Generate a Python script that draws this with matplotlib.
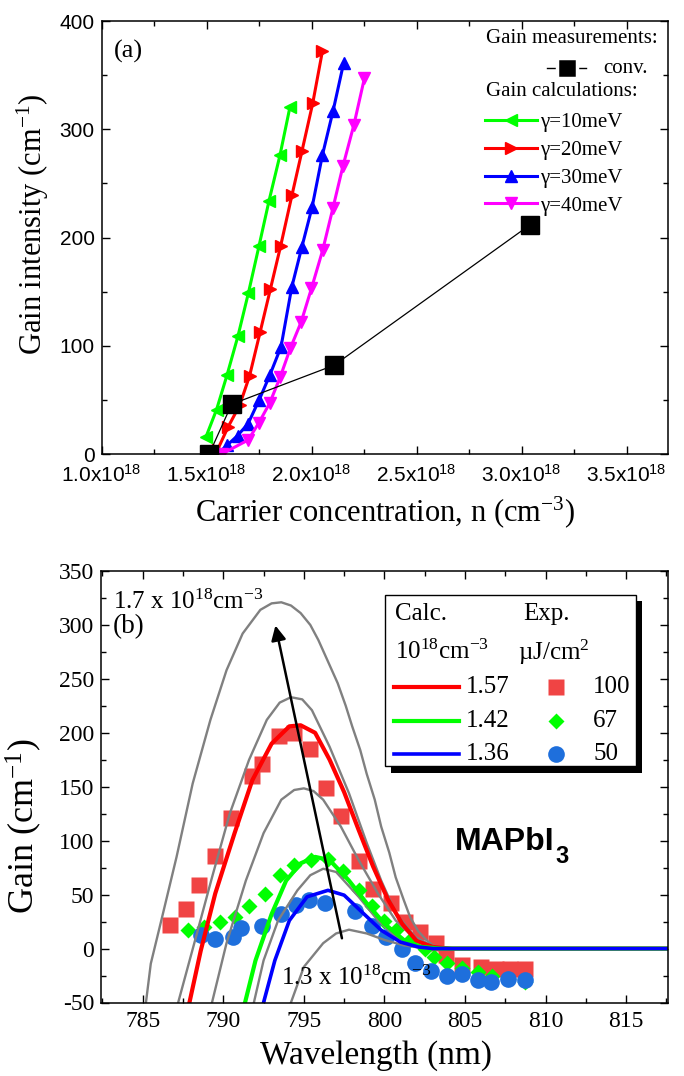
import matplotlib
matplotlib.use("Agg")
import matplotlib.pyplot as plt
from matplotlib.lines import Line2D
from matplotlib.patches import Rectangle
from matplotlib.ticker import MultipleLocator, FuncFormatter

plt.rcParams['mathtext.fontset'] = 'custom'
plt.rcParams['mathtext.rm'] = 'Liberation Serif'
plt.rcParams['mathtext.it'] = 'Liberation Serif:italic'
plt.rcParams['mathtext.bf'] = 'Liberation Serif:bold'
plt.rcParams['mathtext.sf'] = 'Liberation Sans'
plt.rcParams['mathtext.default'] = 'regular'
plt.rcParams['axes.unicode_minus'] = False
SERIF = 'Liberation Serif'
SANS = 'Liberation Sans'

# ---------------- Panel (a) data (n in 1e18 cm^-3, gain in cm^-1) ----------------
g10_n = [1.497, 1.547, 1.597, 1.649, 1.699, 1.749, 1.797, 1.849, 1.897]
g10_g = [16, 41, 73, 109, 149, 192, 234, 276, 321]
g20_n = [1.552, 1.602, 1.657, 1.704, 1.755, 1.803, 1.852, 1.906, 1.954, 2.005, 2.051]
g20_g = [4, 25, 45, 72, 113, 152, 192, 239, 280, 324, 372]
g30_n = [1.552, 1.597, 1.647, 1.697, 1.750, 1.801, 1.854, 1.905, 1.953, 2.002, 2.051, 2.102, 2.152]
g30_g = [0, 8, 17, 28, 50, 73, 99, 154, 191, 228, 276, 317, 361]
g40_n = [1.572, 1.698, 1.749, 1.800, 1.850, 1.899, 1.950, 1.999, 2.052, 2.101, 2.149, 2.201, 2.251]
g40_g = [0, 13, 29, 47, 71, 98, 122, 153, 188, 227, 266, 304, 347]
conv_n = [1.512, 1.619, 2.107, 3.042]
conv_g = [0, 46, 82, 212]
gamma_labels = ['\u03b3=10meV', '\u03b3=20meV', '\u03b3=30meV', '\u03b3=40meV']

# ---------------- Panel (b) data (wavelength nm, gain cm^-1) ----------------
gray17_x = [785.2, 785.5, 786.2, 787.1, 788.1, 789.2, 790.2, 791.2, 792.3, 793.0, 793.6, 794.2, 794.8,
            795.4, 795.9, 796.5, 797.1, 797.6, 798.0, 798.5, 798.9, 799.4, 799.8, 800.3, 800.7, 801.2,
            801.6, 802.1, 802.6, 803.0, 803.5, 804.5]
gray17_y = [-50, -14, 29, 85, 153, 212, 258, 292, 314, 320, 321, 318, 311, 300, 286, 266, 246, 225, 206,
            184, 162, 138, 113, 89, 66, 45, 29, 16, 8, 3, 1, 0]
gray16_x = [787.2, 788.2, 789.3, 790.4, 791.6, 792.7, 793.5, 794.2, 794.9, 795.5, 796.6, 797.8, 798.9,
            799.8, 800.7, 801.9, 803.0, 804.5]
gray16_y = [-50, 5, 66, 125, 175, 212, 228, 233, 231, 221, 187, 144, 98, 63, 33, 11, 2, 0]
gray15_x = [789.3, 790.2, 791.4, 792.5, 793.6, 794.4, 795.0, 795.6, 796.2, 797.3, 798.4, 799.6, 800.7,
            801.9, 803.0, 804.5]
gray15_y = [-50, 5, 63, 107, 138, 147, 148.5, 146, 138, 113, 82, 51, 26, 9, 1.5, 0]
gray14_x = [791.9, 792.5, 793.4, 794.6, 795.4, 796.2, 797.0, 798.4, 799.6, 800.7, 801.9, 803.0, 804.5]
gray14_y = [-50, -11, 26, 54, 68, 74, 71, 48, 26, 11, 3, 0.5, 0]
gray13_x = [794.2, 795.0, 796.2, 797.0, 797.8, 798.9, 800.0, 801.2, 802.3, 803.5]
gray13_y = [-50, -17, 5, 14, 17.5, 14, 8, 3, 0.6, 0]

calc157_x = [787.9, 788.6, 789.5, 790.7, 791.8, 793.0, 794.1, 794.8, 795.7, 796.6, 797.5, 798.4, 799.3,
             800.2, 801.1, 802.0, 803.0, 804.0, 818.0]
calc157_y = [-50, -2, 51, 107, 156, 190, 206, 207, 200, 175, 145, 110, 76, 46, 23, 7, 1.5, 0, 0]
calc142_x = [791.35, 792.0, 793.0, 793.9, 794.8, 795.7, 796.6, 797.8, 798.9, 800.0, 801.2, 802.3, 803.5, 818.0]
calc142_y = [-50, -11, 32, 63, 79, 85, 82, 63, 42, 23, 8, 1.5, 0, 0]
calc136_x = [792.5, 793.2, 794.1, 795.2, 796.5, 797.5, 798.7, 799.8, 801.0, 802.1, 803.0, 818.0]
calc136_y = [-50, -11, 26, 48, 54, 49.5, 32.5, 17, 6, 1.5, 0, 0]

exp100_x = [786.7, 787.7, 788.5, 789.5, 790.5, 791.8, 792.4, 793.45, 794.4, 795.4, 796.35, 797.3, 798.4,
            799.3, 800.4, 801.3, 802.2, 803.2, 803.8, 804.8, 806.0, 806.9, 807.8, 808.7]
exp100_y = [21.7, 37, 59, 86, 121, 160, 171, 197.5, 199.6, 185, 149, 123, 81, 55, 42, 25, 15, 5, -6,
            -15.5, -17, -18.6, -18.6, -18.6]
exp67_x = [787.8, 788.8, 789.8, 790.7, 791.6, 792.6, 793.5, 794.4, 795.45, 796.5, 797.4, 798.4, 799.2,
           800.0, 800.7, 801.6, 802.5, 803.1, 803.9, 804.8, 805.8, 806.7, 807.7, 808.7]
exp67_y = [17, 20, 25, 29, 39, 51, 68, 77, 82, 83, 72, 54, 39, 26, 17, 8, 0, -8, -13, -18, -22, -25, -28, -31]
exp50_x = [788.6, 789.5, 790.6, 791.1, 792.4, 793.6, 794.5, 795.3, 796.3, 798.2, 799.2, 800.1, 801.1,
           801.9, 802.9, 803.9, 804.8, 805.8, 806.6, 807.7, 808.7]
exp50_y = [13, 9, 11, 19, 21, 32, 40, 45, 42, 35, 21, 11, 0, -13, -21, -25, -24, -29, -31, -28, -29]

calc_labels = ['1.57', '1.42', '1.36']
exp_labels = ['100', '67', '50']
arrow_start = (797.4, 7)
arrow_end = (793.2, 302)

# ---------------- Figure ----------------
W, H = 684, 1076
fig = plt.figure(figsize=(W / 100, H / 100), dpi=100)
axA = fig.add_axes([101.7 / W, 1 - 454 / H, (668 - 101.7) / W, (454 - 21) / H])
axB = fig.add_axes([101 / W, 1 - 1002.5 / H, (668 - 101) / W, (1002.5 - 571) / H])

for ax in (axA, axB):
    for s in ax.spines.values():
        s.set_linewidth(1.1)
    ax.tick_params(which='both', direction='in', top=True, right=True, width=1.0)
    ax.tick_params(which='major', length=6)
    ax.tick_params(which='minor', length=3.5)

# Panel (a)
cols = ['#00ff00', '#ff0000', '#0000ff', '#ff00ff']
marks = ['<', '>', '^', 'v']
series = [(g10_n, g10_g), (g20_n, g20_g), (g30_n, g30_g), (g40_n, g40_g)]
handles = []
for (xn, yg), c, m in zip(series, cols, marks):
    axA.plot(xn, yg, color=c, marker=m, markersize=8, lw=2.2)
    handles.append(Line2D([], [], color=c, marker=m, markersize=8, lw=2.2))
axA.plot(conv_n, conv_g, color='black', lw=0.9, marker='s', markersize=12.5)

axA.set_xlim(1.0, 3.697)
axA.set_ylim(0, 400)
axA.xaxis.set_major_locator(MultipleLocator(0.5))
axA.xaxis.set_minor_locator(MultipleLocator(0.25))
axA.yaxis.set_major_locator(MultipleLocator(100))
axA.yaxis.set_minor_locator(MultipleLocator(50))
axA.xaxis.set_major_formatter(FuncFormatter(lambda v, p: f"{v:.1f}x10$^{{18}}$"))
for lab in axA.get_xticklabels() + axA.get_yticklabels():
    lab.set_fontfamily(SANS)
    lab.set_fontsize(15)
axA.tick_params(axis='x', pad=7)
axA.tick_params(axis='y', pad=5)
axA.set_xlabel('Carrier concentration, n (cm$^{-3}$)', fontfamily=SERIF, fontsize=22, va='center')
axA.xaxis.set_label_coords(0.5, -0.134)
axA.set_ylabel('Gain intensity (cm$^{-1}$)', fontfamily=SERIF, fontsize=22, va='center')
axA.yaxis.set_label_coords(-0.121, 0.53)

axA.text(0.022, 0.93, '(a)', transform=axA.transAxes, fontfamily=SERIF, fontsize=19, va='center')
axA.text(0.679, 0.960, 'Gain measurements:', transform=axA.transAxes, fontfamily=SERIF, fontsize=15, va='center')
axA.add_line(Line2D([0.786, 0.856], [0.891, 0.891], transform=axA.transAxes, color='black', lw=1.0))
axA.add_line(Line2D([0.821], [0.891], transform=axA.transAxes, color='black', marker='s', markersize=14.5,
                    markeredgecolor='white', markeredgewidth=2.5))
axA.text(0.885, 0.891, 'conv.', transform=axA.transAxes, fontfamily=SERIF, fontsize=15, va='center')
axA.text(0.679, 0.837, 'Gain calculations:', transform=axA.transAxes, fontfamily=SERIF, fontsize=15, va='center')
axA.legend(handles, gamma_labels, loc='upper left', bbox_to_anchor=(0.677, 0.788), frameon=False,
           handlelength=2.5, handletextpad=0.15, labelspacing=0.39, borderpad=0, borderaxespad=0,
           numpoints=1, prop={'family': SERIF, 'size': 15})

# Panel (b)
GRAY = '#808080'
red_e, green_e, blue_e = '#f04444', '#00ff00', '#1e6fdc'
axB.plot(exp100_x, exp100_y, ls='none', marker='s', markersize=11.5, color=red_e, mec='none')
axB.plot(exp67_x, exp67_y, ls='none', marker='D', markersize=8.5, color=green_e, mec='none')
axB.plot(exp50_x, exp50_y, ls='none', marker='o', markersize=12, color=blue_e, mec='none')
for gx, gy in [(gray17_x, gray17_y), (gray16_x, gray16_y), (gray15_x, gray15_y),
               (gray14_x, gray14_y), (gray13_x, gray13_y)]:
    axB.plot(gx, gy, color=GRAY, lw=1.7)
axB.plot(calc157_x, calc157_y, color='#ff0000', lw=3.0)
axB.plot(calc142_x, calc142_y, color='#00ff00', lw=3.0)
axB.plot(calc136_x, calc136_y, color='#0000ff', lw=2.6)
axB.annotate('', xy=arrow_end, xytext=arrow_start,
             arrowprops=dict(arrowstyle='-|>', color='black', lw=1.8, mutation_scale=22))

axB.set_xlim(782.41, 817.6)
axB.set_ylim(-50, 350)
axB.xaxis.set_major_locator(MultipleLocator(5))
axB.xaxis.set_minor_locator(MultipleLocator(2.5))
axB.yaxis.set_major_locator(MultipleLocator(50))
axB.yaxis.set_minor_locator(MultipleLocator(25))
for lab in axB.get_xticklabels() + axB.get_yticklabels():
    lab.set_fontfamily(SERIF)
    lab.set_fontsize(17)
axB.tick_params(axis='x', pad=6)
axB.tick_params(axis='y', pad=5)
axB.set_xlabel('Wavelength (nm)', fontfamily=SERIF, fontsize=24, va='center')
axB.xaxis.set_label_coords(0.485, -0.122)
axB.set_ylabel('Gain (cm$^{-1}$)', fontfamily=SERIF, fontsize=26, va='center')
axB.yaxis.set_label_coords(-0.137, 0.41)

axB.text(783.15, 321, '1.7 x 10$^{18}$cm$^{-3}$', fontfamily=SERIF, fontsize=18, va='center')
axB.text(783.15, 298, '(b)', fontfamily=SERIF, fontsize=19.5, va='center')
axB.text(793.6, -27, '1.3 x 10$^{18}$cm$^{-3}$', fontfamily=SERIF, fontsize=18, va='center')
t1 = axB.text(804.4, 99, 'MAPbI', fontfamily=SANS, fontsize=23, fontweight='bold', va='center')
axB.annotate('3', xy=(1.0, 0.0), xycoords=t1, fontfamily=SANS, fontsize=17, fontweight='bold',
             va='center', ha='left')

# legend box (b)
tr = axB.transAxes
axB.add_patch(Rectangle((0.512, 0.533), 0.442, 0.398, transform=tr, facecolor='black', edgecolor='none', zorder=5))
axB.add_patch(Rectangle((0.501, 0.547), 0.442, 0.398, transform=tr, facecolor='white', edgecolor='black', lw=1.0, zorder=6))
kw = dict(transform=tr, fontfamily=SERIF, fontsize=18, va='center', zorder=7)
axB.text(0.519, 0.900, 'Calc.', **kw)
axB.text(0.744, 0.900, 'Exp.', **kw)
axB.text(0.519, 0.812, '10$^{18}$cm$^{-3}$', **kw)
axB.text(0.735, 0.812, '\u00b5J/cm$^{2}$', **kw)
rows_y = [0.731, 0.653, 0.577]
line_cols = ['#ff0000', '#00ff00', '#0000ff']
line_w = [3.0, 3.0, 2.6]
mk = [('s', 11.5, red_e), ('D', 8.5, green_e), ('o', 12, blue_e)]
for yy, lc, lw_, cl, el, (m, ms, mc) in zip(rows_y, line_cols, line_w, calc_labels, exp_labels, mk):
    axB.add_line(Line2D([0.517, 0.631], [yy, yy], transform=tr, color=lc, lw=lw_, zorder=7))
    axB.text(0.644, yy, cl, **kw)
    axB.add_line(Line2D([0.803], [yy], transform=tr, marker=m, markersize=ms, color=mc, mec='none', zorder=7))
    axB.text(0.868, yy, el, **kw)

fig.savefig('out.png', dpi=100)
